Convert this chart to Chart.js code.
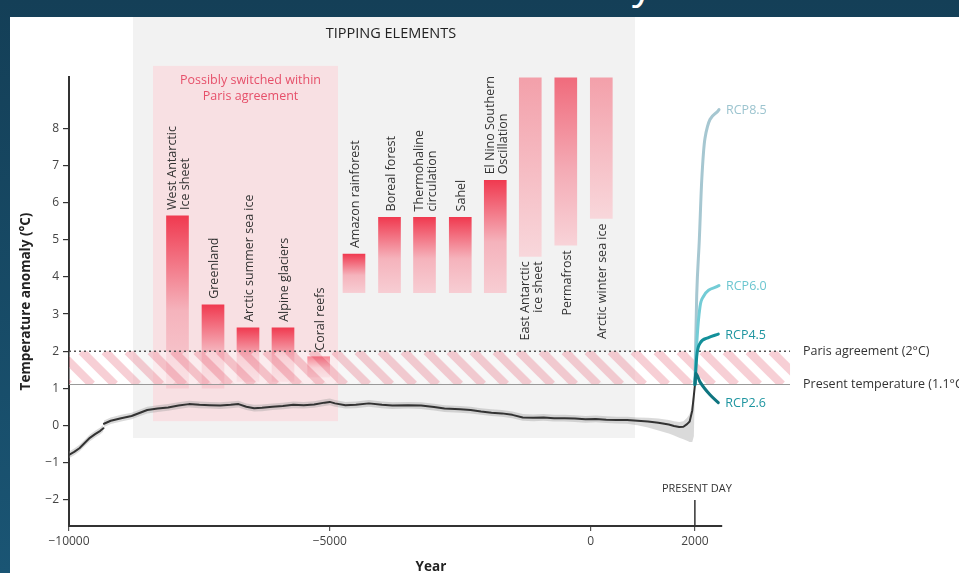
<!DOCTYPE html>
<html>
<head>
<meta charset="utf-8">
<script src="https://cdn.jsdelivr.net/npm/chart.js@4.4.1/dist/chart.umd.min.js"></script>
<style>
  html, body { margin: 0; padding: 0; }
  body {
    width: 959px; height: 573px; overflow: hidden; position: relative;
    background: linear-gradient(180deg, #143f57 0%, #1a5574 100%);
    font-family: 'Open Sans', sans-serif;
  }
  #topGlyph { position: absolute; left: 632px; top: -39px; font-size: 42px; line-height: 42px; color: #fff; }
  #panel { position: absolute; left: 10px; top: 17px; width: 949px; height: 556px; background: #fff; }
  canvas { display: block; }
</style>
</head>
<body>
<div id="topGlyph">y</div>
<div id="panel"><canvas id="chart"></canvas></div>
<script>
// axis ticks
const xTicks = [-10000, -5000, 0, 2000];
const yTicks = [-2, -1, 0, 1, 2, 3, 4, 5, 6, 7, 8];

// Holocene temperature reconstruction (year, anomaly, grey band)
const tempYears = [
  -10000, -9900, -9800, -9700, -9600, -9500, -9400, -9340, -9335, -9330,
  -9200, -9000, -8800, -8650, -8500, -8300, -8100, -7900, -7700, -7500,
  -7300, -7100, -6900, -6750, -6600, -6450, -6300, -6100, -5900, -5700,
  -5500, -5300, -5100, -5000, -4900, -4700, -4500, -4250, -4000, -3800,
  -3500, -3250, -3000, -2800, -2500, -2300, -2100, -1900, -1700, -1500,
  -1300, -1100, -900, -700, -500, -300, -100, 100, 300, 500,
  700, 900, 1100, 1300, 1500, 1600, 1700, 1780, 1850, 1900,
  1950, 1980, 2002
];
const tempValues = [
  -0.80, -0.72, -0.62, -0.48, -0.34, -0.24, -0.15, -0.08, null, 0.04,
  0.12, 0.19, 0.25, 0.33, 0.41, 0.45, 0.48, 0.53, 0.57, 0.55,
  0.54, 0.53, 0.55, 0.57, 0.50, 0.46, 0.47, 0.50, 0.52, 0.55,
  0.54, 0.56, 0.61, 0.63, 0.59, 0.54, 0.55, 0.59, 0.55, 0.53,
  0.54, 0.53, 0.49, 0.45, 0.43, 0.41, 0.37, 0.34, 0.32, 0.28,
  0.21, 0.20, 0.21, 0.19, 0.19, 0.18, 0.16, 0.17, 0.15, 0.14,
  0.14, 0.12, 0.10, 0.07, 0.02, -0.02, -0.05, -0.04, 0.03, 0.10,
  0.40, 0.80, 1.10
];
const bandLow = [
  -0.89, -0.81, -0.71, -0.57, -0.43, -0.33, -0.24, -0.17, null, -0.05,
  0.03, 0.10, 0.16, 0.24, 0.32, 0.36, 0.39, 0.44, 0.48, 0.46,
  0.45, 0.44, 0.46, 0.48, 0.41, 0.37, 0.38, 0.41, 0.43, 0.46,
  0.45, 0.47, 0.52, 0.54, 0.50, 0.45, 0.46, 0.50, 0.46, 0.44,
  0.45, 0.44, 0.40, 0.36, 0.34, 0.32, 0.28, 0.25, 0.23, 0.19,
  0.12, 0.11, 0.12, 0.10, 0.10, 0.09, 0.07, 0.08, 0.06, 0.05,
  0.04, 0.00, -0.06, -0.14, -0.22, -0.28, -0.34, -0.38, -0.42, -0.45,
  -0.45, -0.30, 1.00
];
const bandHigh = [
  -0.71, -0.63, -0.53, -0.39, -0.25, -0.15, -0.06, 0.01, null, 0.13,
  0.21, 0.28, 0.34, 0.42, 0.50, 0.54, 0.57, 0.62, 0.66, 0.64,
  0.63, 0.62, 0.64, 0.66, 0.59, 0.55, 0.56, 0.59, 0.61, 0.64,
  0.63, 0.65, 0.70, 0.72, 0.68, 0.63, 0.64, 0.68, 0.64, 0.62,
  0.63, 0.62, 0.58, 0.54, 0.52, 0.50, 0.46, 0.43, 0.41, 0.37,
  0.30, 0.29, 0.30, 0.28, 0.28, 0.27, 0.25, 0.26, 0.24, 0.23,
  0.23, 0.21, 0.20, 0.18, 0.14, 0.11, 0.09, 0.11, 0.20, 0.30,
  0.60, 0.95, 1.15
];

// tipping elements: position on the time axis and temperature range
const tippingNames = [
  ['West Antarctic', 'Ice sheet'], ['Greenland'], ['Arctic summer sea ice'], ['Alpine glaciers'],
  ['Coral reefs'], ['Amazon rainforest'], ['Boreal forest'], ['Thermohaline', 'circulation'],
  ['Sahel'], ['El Nino Southern', 'Oscillation'], ['East Antarctic', 'ice sheet'], ['Permafrost'],
  ['Arctic winter sea ice']
];
const tippingYears = [-7920, -7239, -6568, -5897, -5213, -4536, -3855, -3184, -2498, -1827, -1156, -475, 206];
const tippingLow  = [1.0, 1.0, 1.18, 1.18, 1.3, 3.58, 3.58, 3.58, 3.58, 3.58, 4.56, 4.86, 5.58];
const tippingHigh = [5.65, 3.25, 2.63, 2.63, 1.85, 4.62, 5.61, 5.61, 5.61, 6.61, 9.38, 9.38, 9.38];

// RCP scenarios
const rcpNames = ['RCP8.5', 'RCP6.0', 'RCP4.5', 'RCP2.6'];
const rcp85Years = [2002, 2012, 2035, 2085, 2131, 2194, 2463];
const rcp85Values = [1.1, 2.0, 3.5, 5.0, 6.6, 7.75, 8.52];
const rcp60Years = [2002, 2040, 2098, 2161, 2463];
const rcp60Values = [1.1, 2.3, 3.2, 3.47, 3.77];
const rcp45Years = [2002, 2035, 2098, 2250, 2449];
const rcp45Values = [1.1, 1.85, 2.21, 2.36, 2.46];
const rcp26Years = [2002, 2015, 2098, 2290, 2449];
const rcp26Values = [1.1, 1.40, 1.17, 0.82, 0.61];

const presentTemp = 1.1;
const parisLimit = 2.0;
const presentYear = 2000;

// shaded regions (years, °C)
const tippingBox = { x0: -8773, x1: 852, y0: -0.345, y1: 11.02 };
const parisBox = { x0: -8389, x1: -4842, y0: 0.11, y1: 9.7 };
const bandEnd = 3824;

// styles
const barStrong = ['#f03a50', '#f5b3bc', '#f7cdd3'];
const barFaint = ['#f3a0aa', '#f6bec5', '#f8d7db'];
const barMid = ['#f06b7c', '#f4abb5', '#f8d3d8'];
const barColors = [barStrong, barStrong, barStrong, barStrong, barStrong, barStrong, barStrong,
  barStrong, barStrong, barStrong, barFaint, barMid, barFaint];
const rcpLineColors = ['#a6c7d1', '#73ccd6', '#13909a', '#0f7580'];
const rcpLabelColors = ['#9cc4cf', '#6cc6d0', '#1e95a0', '#1e95a0'];
const FONT = "'Open Sans', sans-serif";

function pts(xs, ys) {
  return xs.map((x, i) => ({ x: x, y: ys[i] }));
}

function barFill(context) {
  const chart = context.chart;
  const raw = context.raw;
  const cols = barColors[context.dataIndex] || barStrong;
  if (!chart.chartArea || !raw) return cols[0];
  const y = chart.scales.y;
  const top = y.getPixelForValue(raw.y[1]);
  const bot = y.getPixelForValue(raw.y[0]);
  const g = chart.ctx.createLinearGradient(0, top, 0, bot);
  g.addColorStop(0, cols[0]);
  g.addColorStop(0.55, cols[1]);
  g.addColorStop(1, cols[2]);
  return g;
}

function fillBox(ctx, x, y, b, color) {
  const l = x.getPixelForValue(b.x0), r = x.getPixelForValue(b.x1);
  const t = Math.max(y.getPixelForValue(b.y1), 0), btm = y.getPixelForValue(b.y0);
  ctx.fillStyle = color;
  ctx.fillRect(l, t, r - l, btm - t);
}

// grey "tipping elements" panel and the pink Paris box, behind the data
const backdrop = {
  id: 'backdrop',
  beforeDatasetsDraw(chart) {
    const { ctx, scales: { x, y } } = chart;
    ctx.save();
    fillBox(ctx, x, y, tippingBox, '#f2f2f2');
    fillBox(ctx, x, y, parisBox, '#f8e0e3');

    const tTop = Math.max(y.getPixelForValue(tippingBox.y1), 0);
    const tMid = (x.getPixelForValue(tippingBox.x0) + x.getPixelForValue(tippingBox.x1)) / 2;
    ctx.fillStyle = '#222';
    ctx.font = '500 14.5px ' + FONT;
    ctx.textAlign = 'center';
    ctx.textBaseline = 'middle';
    ctx.fillText('TIPPING ELEMENTS', tMid + 7, tTop + 17);

    const pTop = y.getPixelForValue(parisBox.y1);
    const pMid = (x.getPixelForValue(parisBox.x0) + x.getPixelForValue(parisBox.x1)) / 2;
    ctx.fillStyle = '#e6506a';
    ctx.font = '12.5px ' + FONT;
    ctx.fillText('Possibly switched within', pMid + 5, pTop + 15);
    ctx.fillText('Paris agreement', pMid + 5, pTop + 31);
    ctx.restore();
  },
  // hatched band between present temperature and the Paris limit, over the bars
  afterDatasetDraw(chart, args) {
    if (args.index !== 0) return;
    const { ctx, scales: { x, y } } = chart;
    const top = y.getPixelForValue(parisLimit);
    const bot = y.getPixelForValue(presentTemp);
    const left = x.getPixelForValue(x.min);
    const right = x.getPixelForValue(bandEnd);
    const h = bot - top;
    const period = 23;
    ctx.save();
    ctx.beginPath();
    ctx.rect(left, top, right - left, h);
    ctx.clip();
    ctx.lineWidth = 8.5;
    for (let sx = left - h - period; sx < right + period; sx += period) {
      ctx.strokeStyle = 'rgba(240,160,172,0.5)';
      ctx.beginPath();
      ctx.moveTo(sx, top);
      ctx.lineTo(sx + h, bot);
      ctx.stroke();
      ctx.strokeStyle = 'rgba(255,255,255,0.4)';
      ctx.beginPath();
      ctx.moveTo(sx + period / 2, top);
      ctx.lineTo(sx + period / 2 + h, bot);
      ctx.stroke();
    }
    ctx.restore();

    ctx.save();
    ctx.strokeStyle = '#999';
    ctx.lineWidth = 1.2;
    ctx.beginPath();
    ctx.moveTo(left, bot);
    ctx.lineTo(right, bot);
    ctx.stroke();
    ctx.strokeStyle = '#555';
    ctx.lineWidth = 1.5;
    ctx.setLineDash([2, 3]);
    ctx.beginPath();
    ctx.moveTo(left, top);
    ctx.lineTo(right, top);
    ctx.stroke();
    ctx.setLineDash([]);

    ctx.fillStyle = '#333';
    ctx.font = '12.5px ' + FONT;
    ctx.textAlign = 'left';
    ctx.textBaseline = 'middle';
    ctx.fillText('Paris agreement (2°C)', right + 13, top);
    ctx.fillText('Present temperature (1.1°C)', right + 13, bot);
    ctx.restore();
  },
  afterDatasetsDraw(chart) {
    const { ctx, scales: { x, y } } = chart;
    ctx.save();
    // tipping element names
    ctx.fillStyle = '#333';
    ctx.font = '12.5px ' + FONT;
    ctx.textBaseline = 'middle';
    tippingNames.forEach((lines, i) => {
      const px = x.getPixelForValue(tippingYears[i]);
      const below = tippingHigh[i] > 9;
      const py = below ? y.getPixelForValue(tippingLow[i]) + 5 : y.getPixelForValue(tippingHigh[i]) - 6;
      ctx.save();
      ctx.translate(px, py);
      ctx.rotate(-Math.PI / 2);
      ctx.textAlign = below ? 'right' : 'left';
      lines.forEach((t, k) => ctx.fillText(t, 0, (k - (lines.length - 1) / 2) * 12.5 + 1.5));
      ctx.restore();
    });

    // scenario labels at line ends
    ctx.font = '12.5px ' + FONT;
    ctx.textAlign = 'left';
    const ends = [[rcp85Years, rcp85Values], [rcp60Years, rcp60Values], [rcp45Years, rcp45Values], [rcp26Years, rcp26Values]];
    ends.forEach(([xs, ys], i) => {
      const n = xs.length - 1;
      ctx.fillStyle = rcpLabelColors[i];
      ctx.fillText(rcpNames[i], x.getPixelForValue(xs[n]) + 7, y.getPixelForValue(ys[n]) + 1);
    });

    // present day marker
    const pd = x.getPixelForValue(presentYear);
    ctx.strokeStyle = '#333';
    ctx.lineWidth = 1.5;
    ctx.beginPath();
    ctx.moveTo(pd, y.getPixelForValue(-2.02));
    ctx.lineTo(pd, chart.chartArea.bottom);
    ctx.stroke();
    ctx.fillStyle = '#333';
    ctx.font = '11px ' + FONT;
    ctx.textAlign = 'center';
    ctx.fillText('PRESENT DAY', pd + 2, y.getPixelForValue(-1.72));

    // x axis title
    ctx.font = 'bold 13.5px ' + FONT;
    ctx.fillStyle = '#222';
    ctx.fillText('Year', x.getPixelForValue(-3060), chart.chartArea.bottom + 41);
    ctx.restore();
  }
};

Chart.defaults.font.family = FONT;

const lineStyle = { pointRadius: 0, pointHoverRadius: 0, fill: false, borderCapStyle: 'round', borderJoinStyle: 'round' };

new Chart(document.getElementById('chart'), {
  type: 'line',
  data: {
    datasets: [
      {
        type: 'bar',
        data: tippingYears.map((yr, i) => ({ x: yr, y: [tippingLow[i], tippingHigh[i]] })),
        backgroundColor: barFill,
        borderWidth: 0,
        barThickness: 22,
        order: 6
      },
      {
        data: pts(tempYears, bandHigh),
        borderWidth: 0,
        pointRadius: 0,
        fill: '+1',
        backgroundColor: 'rgba(150,150,150,0.35)',
        spanGaps: false,
        order: 5
      },
      {
        data: pts(tempYears, bandLow),
        borderWidth: 0,
        pointRadius: 0,
        fill: false,
        spanGaps: false,
        order: 5
      },
      Object.assign({
        data: pts(tempYears, tempValues),
        borderColor: '#333',
        borderWidth: 2,
        spanGaps: false,
        order: 4
      }, lineStyle),
      Object.assign({
        data: pts(rcp85Years, rcp85Values),
        borderColor: rcpLineColors[0],
        borderWidth: 3,
        cubicInterpolationMode: 'monotone',
        order: 3
      }, lineStyle),
      Object.assign({
        data: pts(rcp60Years, rcp60Values),
        borderColor: rcpLineColors[1],
        borderWidth: 3,
        cubicInterpolationMode: 'monotone',
        order: 2
      }, lineStyle),
      Object.assign({
        data: pts(rcp45Years, rcp45Values),
        borderColor: rcpLineColors[2],
        borderWidth: 3,
        cubicInterpolationMode: 'monotone',
        order: 1
      }, lineStyle),
      Object.assign({
        data: pts(rcp26Years, rcp26Values),
        borderColor: rcpLineColors[3],
        borderWidth: 3,
        cubicInterpolationMode: 'monotone',
        order: 0
      }, lineStyle)
    ]
  },
  options: {
    responsive: true,
    maintainAspectRatio: false,
    animation: false,
    events: [],
    layout: { padding: { left: 0, right: 237, top: 60, bottom: 0 } },
    plugins: { legend: { display: false }, tooltip: { enabled: false } },
    scales: {
      x: {
        type: 'linear',
        min: -10000,
        max: 2520,
        offset: false,
        afterBuildTicks: s => { s.ticks = xTicks.map(v => ({ value: v })); },
        afterFit: s => { s.height = 47; },
        ticks: {
          color: '#444',
          font: { size: 12 },
          padding: 3,
          maxRotation: 0,
          callback: v => (v < 0 ? '\u2212' + Math.abs(v) : String(v))
        },
        grid: { display: true, offset: false, drawOnChartArea: false, drawTicks: true, tickLength: 5, color: '#555', lineWidth: 1.2 },
        border: { display: true, color: '#333', width: 2 }
      },
      y: {
        type: 'linear',
        min: -2.72,
        max: 9.4,
        afterBuildTicks: s => { s.ticks = yTicks.map(v => ({ value: v })); },
        afterFit: s => { s.width = 59; },
        ticks: {
          color: '#444',
          font: { size: 12 },
          padding: 4,
          callback: v => (v < 0 ? '\u2212' + Math.abs(v) : String(v))
        },
        grid: { display: true, drawOnChartArea: false, drawTicks: true, tickLength: 6, color: '#333', lineWidth: 1.2 },
        border: { display: true, color: '#333', width: 2 },
        title: {
          display: true,
          text: 'Temperature anomaly (°C)',
          color: '#222',
          font: { size: 13.5, weight: 'bold' },
          padding: { top: 8, bottom: 0 }
        }
      }
    }
  },
  plugins: [backdrop]
});
</script>
</body>
</html>
